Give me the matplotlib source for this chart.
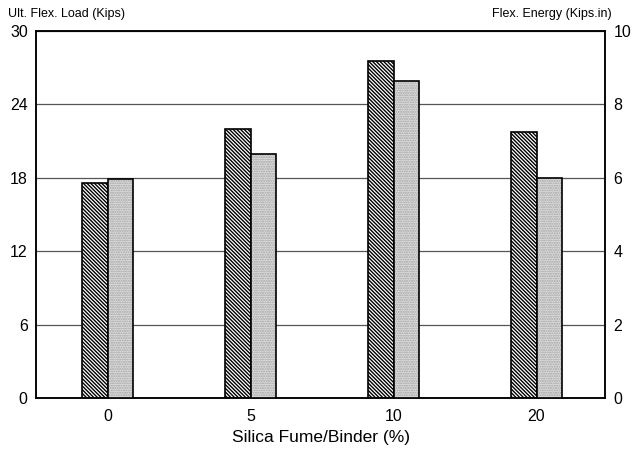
import numpy as np
import matplotlib
matplotlib.use('Agg')
import matplotlib.pyplot as plt

plt.rcParams['font.family'] = ['Liberation Sans', 'DejaVu Sans']
plt.rcParams['hatch.linewidth'] = 1.0

categories = ['0', '5', '10', '20']
ult_load = [17.6, 22.0, 27.5, 21.75]        # kips (left axis)
flex_energy = [5.97, 6.65, 8.63, 6.0]       # kips.in (right axis)

x = np.arange(len(categories))
w = 0.18

fig = plt.figure(figsize=(6.33, 4.51), dpi=100)
ax = fig.add_axes([0.057, 0.1175, 0.899, 0.814])
ax2 = ax.twinx()

ax.set_ylim(0, 30)
ax2.set_ylim(0, 10)
ax.set_xlim(-0.5, 3.48)
ax.set_yticks([0, 6, 12, 18, 24, 30])
ax2.set_yticks([0, 2, 4, 6, 8, 10])
ax.yaxis.grid(True, color='#555555', lw=0.9)
ax.set_axisbelow(True)

# hatched load bars (dense diagonal lines)
ax.bar(x - w / 2, ult_load, w, facecolor='white', edgecolor='black',
       hatch='\\' * 9, lw=1.2, zorder=3)
# stippled energy bars: grey dots then black outline
ax2.bar(x + w / 2, flex_energy, w, facecolor='#e0e0e0', edgecolor='#a0a0a0',
        hatch='.' * 7, lw=0, zorder=3)
ax2.bar(x + w / 2, flex_energy, w, facecolor='none', edgecolor='black',
        lw=1.2, zorder=4)

ax.set_xticks(x)
ax.set_xticklabels(categories)
for a in (ax, ax2):
    a.tick_params(length=0, labelsize=11.5, pad=6)
    for s in a.spines.values():
        s.set_linewidth(1.1)
ax.tick_params(axis='x', pad=8)

ax.set_xlabel('Silica Fume/Binder (%)', fontsize=12.5, labelpad=4)
fig.text(0.013, 0.955, 'Ult. Flex. Load (Kips)', fontsize=9, ha='left', va='bottom')
fig.text(0.967, 0.955, 'Flex. Energy (Kips.in)', fontsize=9, ha='right', va='bottom')

fig.savefig('out.png', dpi=100)
